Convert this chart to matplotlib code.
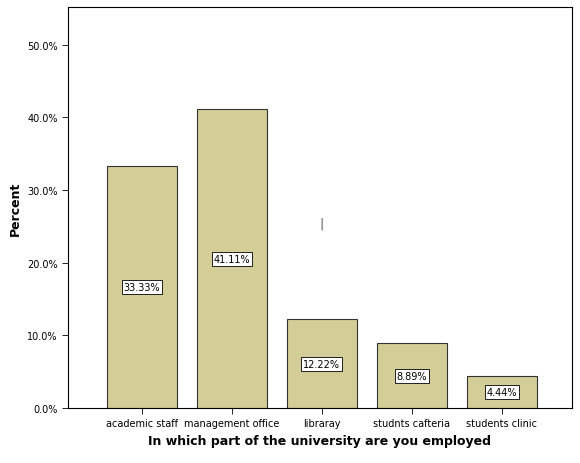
import matplotlib
matplotlib.use("Agg")
import matplotlib.pyplot as plt

categories = ["academic staff", "management office", "libraray", "studnts cafteria", "students clinic"]
values = [33.33, 41.11, 12.22, 8.89, 4.44]
yticks = [0, 10, 20, 30, 40, 50]

fig = plt.figure(figsize=(5.8, 4.64), dpi=100)
ax = fig.add_axes([68/580, 1-409/464, 504/580, 401/464])
x = list(range(len(categories)))
ax.bar(x, values, width=0.78, color="#D3CE97", edgecolor="#333333", linewidth=0.8)
for xi, v in zip(x, values):
    ax.text(xi, v/2, f"{v:.2f}%", ha="center", va="center", fontsize=7,
            bbox=dict(boxstyle="square,pad=0.2", fc="white", ec="black", lw=0.6))
ax.text(2, 25.5, "|", ha="center", va="center", fontsize=9, color="#555555")
ax.set_xlim(-0.82, 4.78)
ax.set_ylim(0, 55.2)
ax.set_yticks(yticks)
ax.set_yticklabels([f"{t:.1f}%" for t in yticks], fontsize=7)
ax.set_xticks(x)
ax.set_xticklabels(categories, fontsize=7)
ax.tick_params(length=4, width=0.6)
for s in ax.spines.values():
    s.set_linewidth(0.8)
ax.set_ylabel("Percent", fontsize=9, fontweight="bold")
ax.set_xlabel("In which part of the university are you employed", fontsize=9, fontweight="bold")
fig.savefig("out.png", dpi=100)
